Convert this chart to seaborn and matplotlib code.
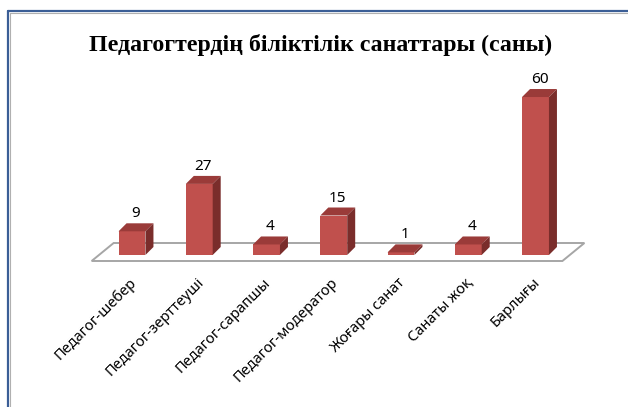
import matplotlib
matplotlib.use('Agg')
import matplotlib.pyplot as plt
import seaborn as sns
import pandas as pd
from matplotlib.patches import Polygon
from matplotlib.lines import Line2D

# Chart data
categories = ['Педагог-шебер', 'Педагог-зерттеуші', 'Педагог-сарапшы',
              'Педагог-модератор', 'Жоғары санат', 'Санаты жоқ', 'Барлығы']
counts = [9, 27, 4, 15, 1, 4, 60]
title = 'Педагогтердің біліктілік санаттары (саны)'

FRONT = '#C0504D'
TOP = '#9A3B39'
SIDE = '#7A2D2B'
FLOOR_EDGE = '#A6A6A6'

W, H = 628, 407
X0, DX = 132, 67.25      # pixel of first bar centre, spacing
Y0, DY = 255, 2.633      # pixel of value 0, pixels per unit

sns.set_theme(style='white')
plt.rcParams['font.family'] = ['Noto Sans', 'DejaVu Sans']

fig = plt.figure(figsize=(W / 100, H / 100), dpi=100)
ax = fig.add_axes([0, 0, 1, 1])

# depth offset of the 3d bars, in data units
ddx, ddy = 8 / DX, 8 / DY
n = len(categories)

# floor of the 3d plot
fx0, fx1 = -0.6, n - 1 + 0.4
fy = -6 / DY
fdx, fdy = 22 / DX, 18 / DY
floor = Polygon([(fx0, fy), (fx1, fy), (fx1 + fdx, fy + fdy), (fx0 + fdx, fy + fdy)],
                closed=True, facecolor='white', edgecolor=FLOOR_EDGE, lw=1.4, zorder=0.5)
ax.add_patch(floor)

df = pd.DataFrame({'cat': categories, 'n': counts})
df['pos'] = range(n)
sns.barplot(data=df, x='pos', y='n', native_scale=True, color=FRONT, width=0.4,
            saturation=1, ax=ax, zorder=3, linewidth=0)
ax.set_xlim(-X0 / DX, (W - X0) / DX)
ax.set_ylim(-(H - Y0) / DY, Y0 / DY)
ax.axis('off')

bars = [p for p in ax.patches if p is not floor]
for p, v, lab in zip(bars, counts, categories):
    x0 = p.get_x()
    x1 = x0 + p.get_width()
    h = p.get_height()
    top = Polygon([(x0, h), (x1, h), (x1 + ddx, h + ddy), (x0 + ddx, h + ddy)],
                  closed=True, facecolor=TOP, edgecolor='none', zorder=3)
    side = Polygon([(x1, 0), (x1 + ddx, ddy), (x1 + ddx, h + ddy), (x1, h)],
                   closed=True, facecolor=SIDE, edgecolor='none', zorder=3)
    ax.add_patch(top)
    ax.add_patch(side)
    xc = x0 + p.get_width() / 2
    ax.annotate(str(v), xy=(xc + ddx / 2, h + ddy), xytext=(0, 2),
                textcoords='offset pixels', ha='center', va='bottom',
                fontsize=11, color='black')
    ax.annotate(lab, xy=(xc, 0), xytext=(-3, -20), textcoords='offset pixels',
                ha='right', va='top', rotation=45, rotation_mode='anchor',
                fontsize=10.5, color='black')

fig.text(321 / W, 1 - 45 / H, title, ha='center', va='center', color='black',
         fontsize=17.2, fontweight='bold', family=['Liberation Serif', 'DejaVu Serif'])

# frame of the embedded chart
fig.add_artist(Line2D([8 / W, 1], [1 - 11 / H, 1 - 11 / H], color='#3B5E96', lw=1.6))
fig.add_artist(Line2D([8 / W, 8 / W], [0, 1 - 11 / H], color='#3B5E96', lw=1.6))
fig.add_artist(Line2D([9.5 / W, 1], [1 - 12.5 / H, 1 - 12.5 / H], color='#B0B0B0', lw=0.8))
fig.add_artist(Line2D([9.5 / W, 9.5 / W], [0, 1 - 12.5 / H], color='#B0B0B0', lw=0.8))

fig.savefig('out.png', dpi=100)
